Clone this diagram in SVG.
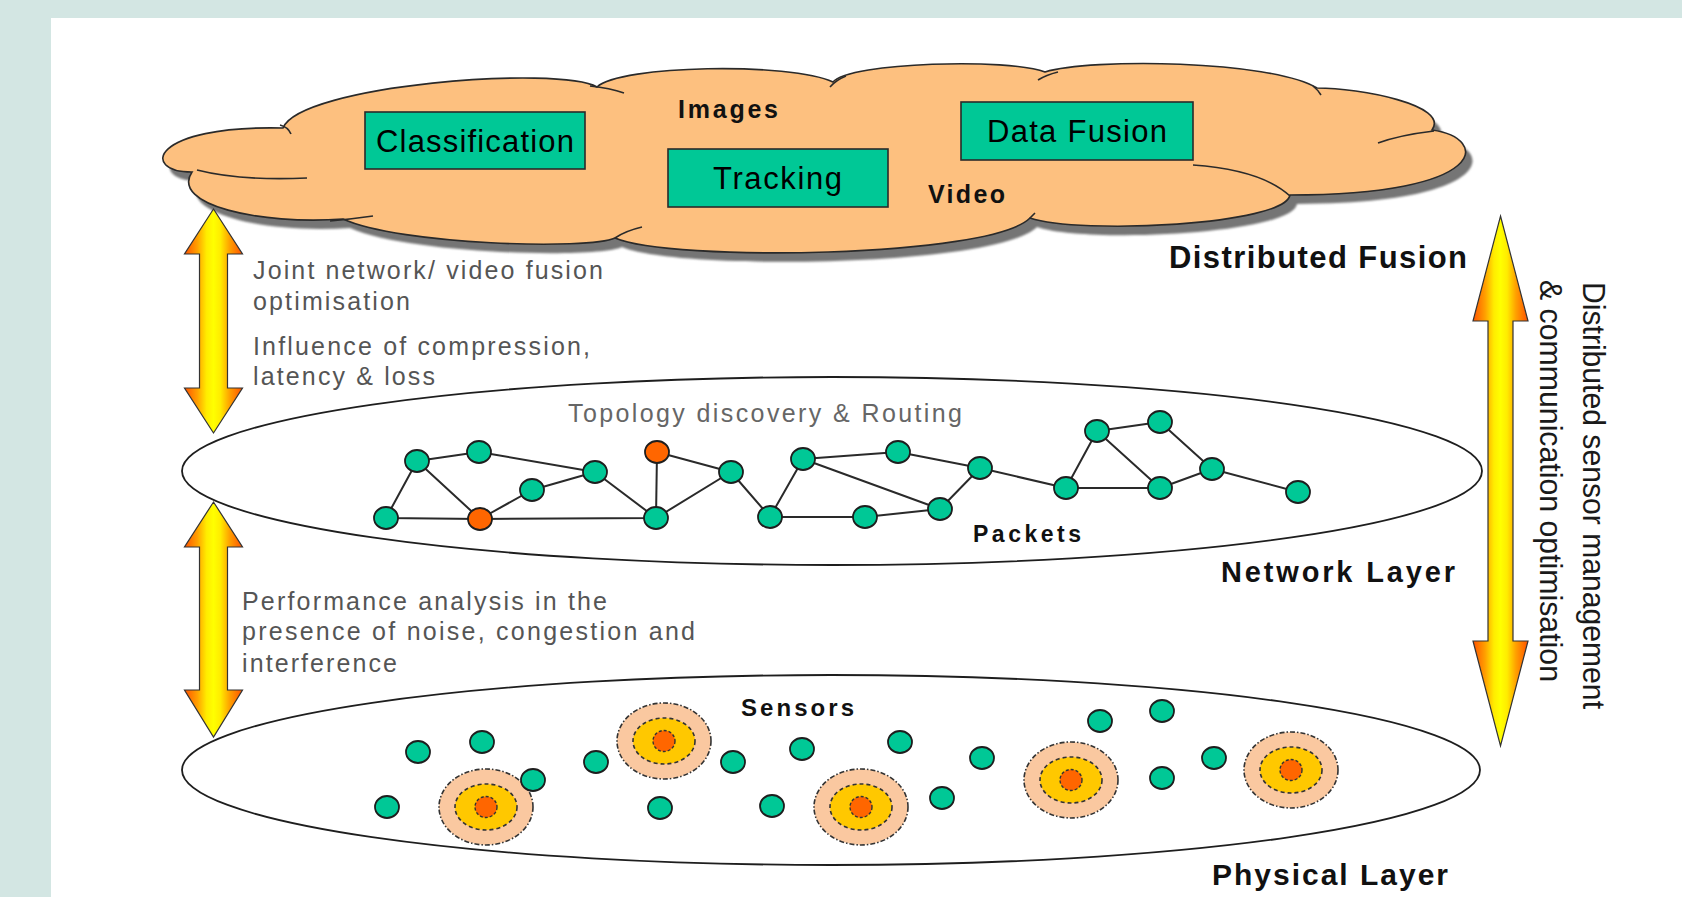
<svg xmlns="http://www.w3.org/2000/svg" width="1682" height="897" viewBox="0 0 1682 897">
  <defs>
    <linearGradient id="arrowFill" x1="0" y1="0" x2="1" y2="0">
      <stop offset="0" stop-color="#ff5200"/>
      <stop offset="0.22" stop-color="#ffa000"/>
      <stop offset="0.38" stop-color="#ffec00"/>
      <stop offset="0.5" stop-color="#ffff00"/>
      <stop offset="0.62" stop-color="#ffec00"/>
      <stop offset="0.78" stop-color="#ffa000"/>
      <stop offset="1" stop-color="#ff5200"/>
    </linearGradient>
    <filter id="soft" x="-5%" y="-20%" width="110%" height="140%">
      <feGaussianBlur stdDeviation="1"/>
    </filter>
    <path id="cloudShape" d="M192,172 C140,172 150,125 283,128 C300,85 560,65 597,87 C620,65 790,62 833,82 C850,62 1010,58 1045,72 C1090,58 1270,60 1317,88 C1360,88 1450,105 1432,130 C1490,138 1490,195 1290,195 C1285,225 1080,235 1030,218 C990,258 670,262 615,238 C590,250 400,245 343,219 C260,225 170,205 192,172 Z"/>
    <ellipse id="dot" rx="12" ry="11"/>
  </defs>
  <style>
    .panel { fill: #ffffff; }
    .cloud { fill: #fdc07f; stroke: #2a2a2a; stroke-width: 1.6; }
    .cloud-shadow { fill: #747474; }
    .hook { fill: none; stroke: #2a2a2a; stroke-width: 1.6; }
    .box { fill: #00c896; stroke: #2a2a2a; stroke-width: 1.6; }
    .box-text { font-family: "Liberation Sans", Arial, sans-serif; font-size: 31px; fill: #000; }
    .tag { font-family: "Liberation Sans", Arial, sans-serif; font-weight: bold; fill: #111; }
    .note { font-family: "Liberation Sans", Arial, sans-serif; font-size: 25px; fill: #555; }
    .side { font-family: "Liberation Sans", Arial, sans-serif; font-size: 31px; fill: #1a1a1a; }
    .layer { fill: none; stroke: #1e1e1e; stroke-width: 1.8; }
    .arrow { fill: url(#arrowFill); stroke: #333; stroke-width: 1.2; }
    .link { stroke: #2a2a2a; stroke-width: 2; fill: none; }
    .node { fill: #00c896; stroke: #1e1e1e; stroke-width: 1.8; }
    .hot { fill: #ff6600; stroke: #1e1e1e; stroke-width: 1.8; }
    .zone-outer { fill: #fac8a0; stroke: #333; stroke-width: 1.6; stroke-dasharray: 5 2 1.5 2; }
    .zone-mid { fill: #ffc800; stroke: #333; stroke-width: 1.6; stroke-dasharray: 4 3; }
    .zone-core { fill: #ff6600; stroke: #333; stroke-width: 1.4; stroke-dasharray: 3 2; }
  </style>

  <!-- page background -->
  <rect x="0" y="0" width="1682" height="897" fill="#d3e6e3"/>
  <rect class="panel" x="51" y="18" width="1631" height="879"/>

  <!-- distributed fusion cloud -->
  <g id="fusion-cloud">
    <use href="#cloudShape" class="cloud-shadow" transform="translate(7,9)" filter="url(#soft)"/>
    <use href="#cloudShape" class="cloud"/>
    <path class="hook" d="M197,170 Q240,181 307,178 M330,221 Q352,219 373,216 M280,125 Q288,127 291,134 M590,86 Q610,88 624,93 M846,76 Q836,80 830,87 M1038,80 Q1046,75 1058,72 M1313,86 Q1318,90 1321,95 M1434,131 Q1400,135 1378,143 M1193,165 Q1262,170 1290,196 M615,238 Q625,231 642,227 M1030,218 Q1032,216 1035,213"/>
    <text class="tag" x="678" y="118" font-size="25" textLength="100">Images</text>
    <text class="tag" x="928" y="203" font-size="25" textLength="77">Video</text>
  </g>

  <g id="box-classification">
    <rect class="box" x="365" y="112" width="220" height="57"/>
    <text class="box-text" x="376" y="152" textLength="198">Classification</text>
  </g>
  <g id="box-tracking">
    <rect class="box" x="668" y="149" width="220" height="58"/>
    <text class="box-text" x="713" y="189" textLength="129">Tracking</text>
  </g>
  <g id="box-data-fusion">
    <rect class="box" x="961" y="102" width="232" height="58"/>
    <text class="box-text" x="987" y="142" textLength="180">Data Fusion</text>
  </g>

  <g id="label-distributed-fusion">
    <text class="tag" x="1169" y="268" font-size="31" textLength="298">Distributed Fusion</text>
  </g>

  <!-- network layer -->
  <g id="network-layer">
    <ellipse class="layer" cx="832" cy="471" rx="650" ry="94"/>
    <text class="note" x="568" y="422" font-size="26" textLength="394" style="fill:#666">Topology discovery &amp; Routing</text>
    <text class="tag" x="973" y="542" font-size="23" textLength="108">Packets</text>
    <text class="tag" x="1221" y="582" font-size="29" textLength="234">Network Layer</text>
  </g>

  <!-- physical layer -->
  <g id="physical-layer">
    <ellipse class="layer" cx="831" cy="770" rx="649" ry="95"/>
    <text class="tag" x="741" y="716" font-size="24" textLength="113">Sensors</text>
    <text class="tag" x="1212" y="885" font-size="30" textLength="236">Physical Layer</text>
  </g>

  <!-- network links -->
  <g id="connectors">
    <path class="link" d="M386,518 L480,519 M386,518 L417,461 M417,461 L479,452 M417,461 L480,519 M479,452 L595,472 M480,519 L532,490 M532,490 L595,472 M480,519 L656,518 M595,472 L656,518 M657,452 L656,518 M657,452 L731,472 M656,518 L731,472 M731,472 L770,517 M770,517 L803,459 M770,517 L865,517 M803,459 L898,452 M803,459 L940,509 M865,517 L940,509 M898,452 L980,468 M980,468 L940,509 M980,468 L1066,488 M1066,488 L1097,431 M1066,488 L1160,488 M1097,431 L1160,422 M1097,431 L1160,488 M1160,422 L1212,469 M1160,488 L1212,469 M1212,469 L1298,492"/>
  </g>

  <!-- network nodes -->
  <g id="network-nodes">
    <use href="#dot" class="node" x="386" y="518"/>
    <use href="#dot" class="node" x="417" y="461"/>
    <use href="#dot" class="node" x="479" y="452"/>
    <use href="#dot" class="hot" x="480" y="519"/>
    <use href="#dot" class="node" x="532" y="490"/>
    <use href="#dot" class="node" x="595" y="472"/>
    <use href="#dot" class="hot" x="657" y="452"/>
    <use href="#dot" class="node" x="656" y="518"/>
    <use href="#dot" class="node" x="731" y="472"/>
    <use href="#dot" class="node" x="770" y="517"/>
    <use href="#dot" class="node" x="803" y="459"/>
    <use href="#dot" class="node" x="865" y="517"/>
    <use href="#dot" class="node" x="898" y="452"/>
    <use href="#dot" class="node" x="980" y="468"/>
    <use href="#dot" class="node" x="940" y="509"/>
    <use href="#dot" class="node" x="1066" y="488"/>
    <use href="#dot" class="node" x="1097" y="431"/>
    <use href="#dot" class="node" x="1160" y="422"/>
    <use href="#dot" class="node" x="1160" y="488"/>
    <use href="#dot" class="node" x="1212" y="469"/>
    <use href="#dot" class="node" x="1298" y="492"/>
  </g>

  <!-- sensing zones -->
  <g id="sensor-zones">
    <g transform="translate(486,807)"><ellipse class="zone-outer" rx="47" ry="38"/><ellipse class="zone-mid" rx="31" ry="23"/><ellipse class="zone-core" rx="11" ry="10.5"/></g>
    <g transform="translate(664,741)"><ellipse class="zone-outer" rx="47" ry="38"/><ellipse class="zone-mid" rx="31" ry="23"/><ellipse class="zone-core" rx="11" ry="10.5"/></g>
    <g transform="translate(861,807)"><ellipse class="zone-outer" rx="47" ry="38"/><ellipse class="zone-mid" rx="31" ry="23"/><ellipse class="zone-core" rx="11" ry="10.5"/></g>
    <g transform="translate(1071,780)"><ellipse class="zone-outer" rx="47" ry="38"/><ellipse class="zone-mid" rx="31" ry="23"/><ellipse class="zone-core" rx="11" ry="10.5"/></g>
    <g transform="translate(1291,770)"><ellipse class="zone-outer" rx="47" ry="38"/><ellipse class="zone-mid" rx="31" ry="23"/><ellipse class="zone-core" rx="11" ry="10.5"/></g>
  </g>

  <!-- sensor nodes -->
  <g id="sensor-nodes">
    <use href="#dot" class="node" x="418" y="752"/>
    <use href="#dot" class="node" x="482" y="742"/>
    <use href="#dot" class="node" x="533" y="780"/>
    <use href="#dot" class="node" x="387" y="807"/>
    <use href="#dot" class="node" x="596" y="762"/>
    <use href="#dot" class="node" x="733" y="762"/>
    <use href="#dot" class="node" x="802" y="749"/>
    <use href="#dot" class="node" x="900" y="742"/>
    <use href="#dot" class="node" x="660" y="808"/>
    <use href="#dot" class="node" x="772" y="806"/>
    <use href="#dot" class="node" x="942" y="798"/>
    <use href="#dot" class="node" x="982" y="758"/>
    <use href="#dot" class="node" x="1100" y="721"/>
    <use href="#dot" class="node" x="1162" y="711"/>
    <use href="#dot" class="node" x="1162" y="778"/>
    <use href="#dot" class="node" x="1214" y="758"/>
  </g>

  <!-- cross-layer arrows -->
  <g id="arrow-fusion-network">
    <path class="arrow" d="M213.5,209 L242.5,254 L227.5,254 L227.5,388 L242.5,388 L213.5,433 L184.5,388 L199.5,388 L199.5,254 L184.5,254 Z"/>
    <text class="note" x="253" y="279" textLength="350">Joint network/ video fusion</text>
    <text class="note" x="253" y="310" textLength="157">optimisation</text>
    <text class="note" x="253" y="355" textLength="337">Influence of compression,</text>
    <text class="note" x="253" y="385" textLength="182">latency &amp; loss</text>
  </g>
  <g id="arrow-network-physical">
    <path class="arrow" d="M213.5,502 L242.5,547 L227.5,547 L227.5,690 L242.5,690 L213.5,737 L184.5,690 L199.5,690 L199.5,547 L184.5,547 Z"/>
    <text class="note" x="242" y="610" textLength="365">Performance analysis in the</text>
    <text class="note" x="242" y="640" textLength="453">presence of noise, congestion and</text>
    <text class="note" x="242" y="672" textLength="155">interference</text>
  </g>
  <g id="arrow-cross-layer">
    <path class="arrow" d="M1500.5,216 L1528,321 L1513,321 L1513,641 L1528,641 L1500.5,746 L1473,641 L1488,641 L1488,321 L1473,321 Z"/>
    <text class="side" transform="translate(1583,282) rotate(90)" textLength="427" lengthAdjust="spacingAndGlyphs">Distributed sensor management</text>
    <text class="side" transform="translate(1540,280) rotate(90)" textLength="402" lengthAdjust="spacingAndGlyphs">&amp; communication optimisation</text>
  </g>
</svg>
